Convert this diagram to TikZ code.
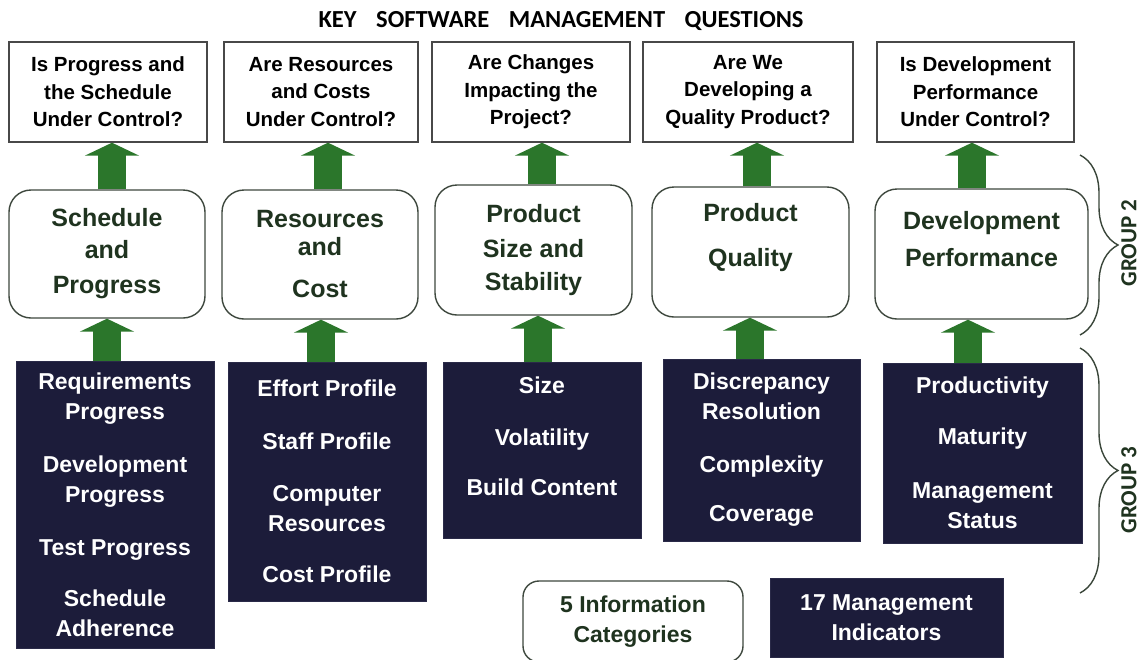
\documentclass[tikz,border=0pt]{standalone}
\usepackage{fontspec}
\setmainfont{Liberation Sans}
\newfontfamily\calibrifont{Carlito}
\usetikzlibrary{arrows.meta, decorations.pathreplacing}
\definecolor{arrowgreen}{HTML}{2B762B}
\definecolor{boxline}{HTML}{484848}
\definecolor{catline}{HTML}{3E483E}
\definecolor{cattext}{HTML}{1F331F}
\definecolor{darknavy}{HTML}{1C1C3A}
\definecolor{navyedge}{HTML}{2A2A48}
\definecolor{bracecol}{HTML}{3A463A}
\tikzstyle{qbox} = [rectangle, draw=boxline, line width=1.4pt, fill=white, align=center, inner sep=0pt, font=\bfseries\fontsize{20.5}{27.5}\selectfont]
\tikzstyle{catbox} = [rectangle, rounded corners=22pt, draw=catline, line width=1.4pt, fill=white, align=center, inner sep=0pt, text=cattext, font=\bfseries\fontsize{25}{34}\selectfont]
\tikzstyle{indbox} = [rectangle, draw=navyedge, line width=1pt, fill=darknavy, text=white, align=center, inner sep=0pt, font=\bfseries\fontsize{23}{30}\selectfont]
\tikzstyle{fatarrow} = [arrowgreen, line width=28pt, -{Triangle[length=13pt, width=54pt]}]
\tikzstyle{groupbrace} = [decorate, decoration={brace, amplitude=38pt}, draw=bracecol, line width=1.4pt]
\tikzstyle{grouplabel} = [text=cattext, rotate=90, inner sep=0pt, font=\calibrifont\bfseries\fontsize{23}{26}\selectfont]

\begin{document}
\begin{tikzpicture}[x=1pt, y=-1pt]
    \useasboundingbox[fill=white] (0,0) rectangle (1141,659);

    % Title
    \node (title) [font=\calibrifont\bfseries\fontsize{24.5}{28}\selectfont] at (561,21)
        {KEY\hspace{0.8em}SOFTWARE\hspace{0.8em}MANAGEMENT\hspace{0.8em}QUESTIONS};

    % Questions (top row)
    \node (q1) [qbox, minimum width=198pt, minimum height=100pt] at (108,92) {Is Progress and\\the Schedule\\Under Control?};
    \node (q2) [qbox, minimum width=194pt, minimum height=100pt] at (321,92) {Are Resources\\and Costs\\Under Control?};
    \node (q3) [qbox, minimum width=198pt, minimum height=100pt] at (531,92) {Are Changes\\Impacting the\\Project?};
    \node (q4) [qbox, minimum width=210pt, minimum height=100pt] at (748,92) {Are We\\Developing a\\Quality Product?};
    \node (q5) [qbox, minimum width=197pt, minimum height=100pt] at (975.5,92) {Is Development\\Performance\\Under Control?};

    % Information categories (middle row)
    \node (c1) [catbox, minimum width=196pt, minimum height=128pt] at (107,254) {Schedule\\[-2pt]and\\[1pt]Progress};
    \node (c2) [catbox, minimum width=196pt, minimum height=129pt] at (320,254.5) {Resources\\[-6pt]and\\[8pt]Cost};
    \node (c3) [catbox, minimum width=197pt, minimum height=130pt] at (533.5,250) {Product\\[1pt]Size and\\[-1pt]Stability};
    \node (c4) [catbox, minimum width=197pt, minimum height=130pt] at (750.5,252) {Product\\[11pt]Quality\\[0pt]\mbox{}};
    \node (c5) [catbox, minimum width=213pt, minimum height=130pt] at (981.5,254) {Development\\[3pt]Performance\\[-3pt]\mbox{}};

    % Management indicators (bottom row)
    \node (i1) [indbox, minimum width=198pt, minimum height=287pt] at (115,505)
        {Requirements\\Progress\\[23pt]Development\\Progress\\[23pt]Test Progress\\[21pt]Schedule\\Adherence};
    \node (i2) [indbox, minimum width=198pt, minimum height=239pt] at (327,481.5)
        {Effort Profile\\[23pt]Staff Profile\\[22pt]Computer\\Resources\\[21pt]Cost Profile};
    \node (i3) [indbox, minimum width=198pt, minimum height=176pt] at (542,450)
        {Size\\[22pt]Volatility\\[20pt]Build Content\\[-2pt]\mbox{}};
    \node (i4) [indbox, minimum width=197pt, minimum height=182pt] at (761.5,450)
        {Discrepancy\\Resolution\\[23pt]Complexity\\[19pt]Coverage};
    \node (i5) [indbox, minimum width=199pt, minimum height=180pt] at (982.5,453)
        {Productivity\\[21pt]Maturity\\[24pt]Management\\Status};

    % Legend
    \node (infocat) [catbox, rounded corners=16pt, font=\bfseries\fontsize{23}{30}\selectfont,
          minimum width=220pt, minimum height=81pt] at (633,621.5) {5 Information\\Categories};
    \node (mgmtind) [indbox, minimum width=233pt, minimum height=79pt] at (886.5,617.5) {17 Management\\Indicators};

    % Arrows up to the questions
    \draw [fatarrow] ([xshift=5pt]c1.north) -- ([xshift=5pt]c1.north |- q1.south);
    \draw [fatarrow] ([xshift=8pt]c2.north) -- ([xshift=8pt]c2.north |- q2.south);
    \draw [fatarrow] ([xshift=8.5pt]c3.north) -- ([xshift=8.5pt]c3.north |- q3.south);
    \draw [fatarrow] ([xshift=6.5pt]c4.north) -- ([xshift=6.5pt]c4.north |- q4.south);
    \draw [fatarrow] ([xshift=-9.5pt]c5.north) -- ([xshift=-9.5pt]c5.north |- q5.south);

    % Arrows up to the categories
    \draw [fatarrow] ([xshift=-8pt]i1.north) -- ([xshift=-8pt]i1.north |- c1.south);
    \draw [fatarrow] ([xshift=-6pt]i2.north) -- ([xshift=-6pt]i2.north |- c2.south);
    \draw [fatarrow] ([xshift=-4pt]i3.north) -- ([xshift=-4pt]i3.north |- c3.south);
    \draw [fatarrow] ([xshift=-11.5pt]i4.north) -- ([xshift=-11.5pt]i4.north |- c4.south);
    \draw [fatarrow] ([xshift=-14.5pt]i5.north) -- ([xshift=-14.5pt]i5.north |- c5.south);

    % Group braces
    \coordinate (g2top) at (1080,155);
    \coordinate (g2bot) at (1080,335);
    \coordinate (g3top) at (1080,348);
    \coordinate (g3bot) at (1080,593);
    \draw [groupbrace] (g2top) -- (g2bot);
    \draw [groupbrace] (g3top) -- (g3bot);
    \node (group2) [grouplabel] at (1129,243) {GROUP 2};
    \node (group3) [grouplabel] at (1129,490) {GROUP 3};
\end{tikzpicture}
\end{document}
